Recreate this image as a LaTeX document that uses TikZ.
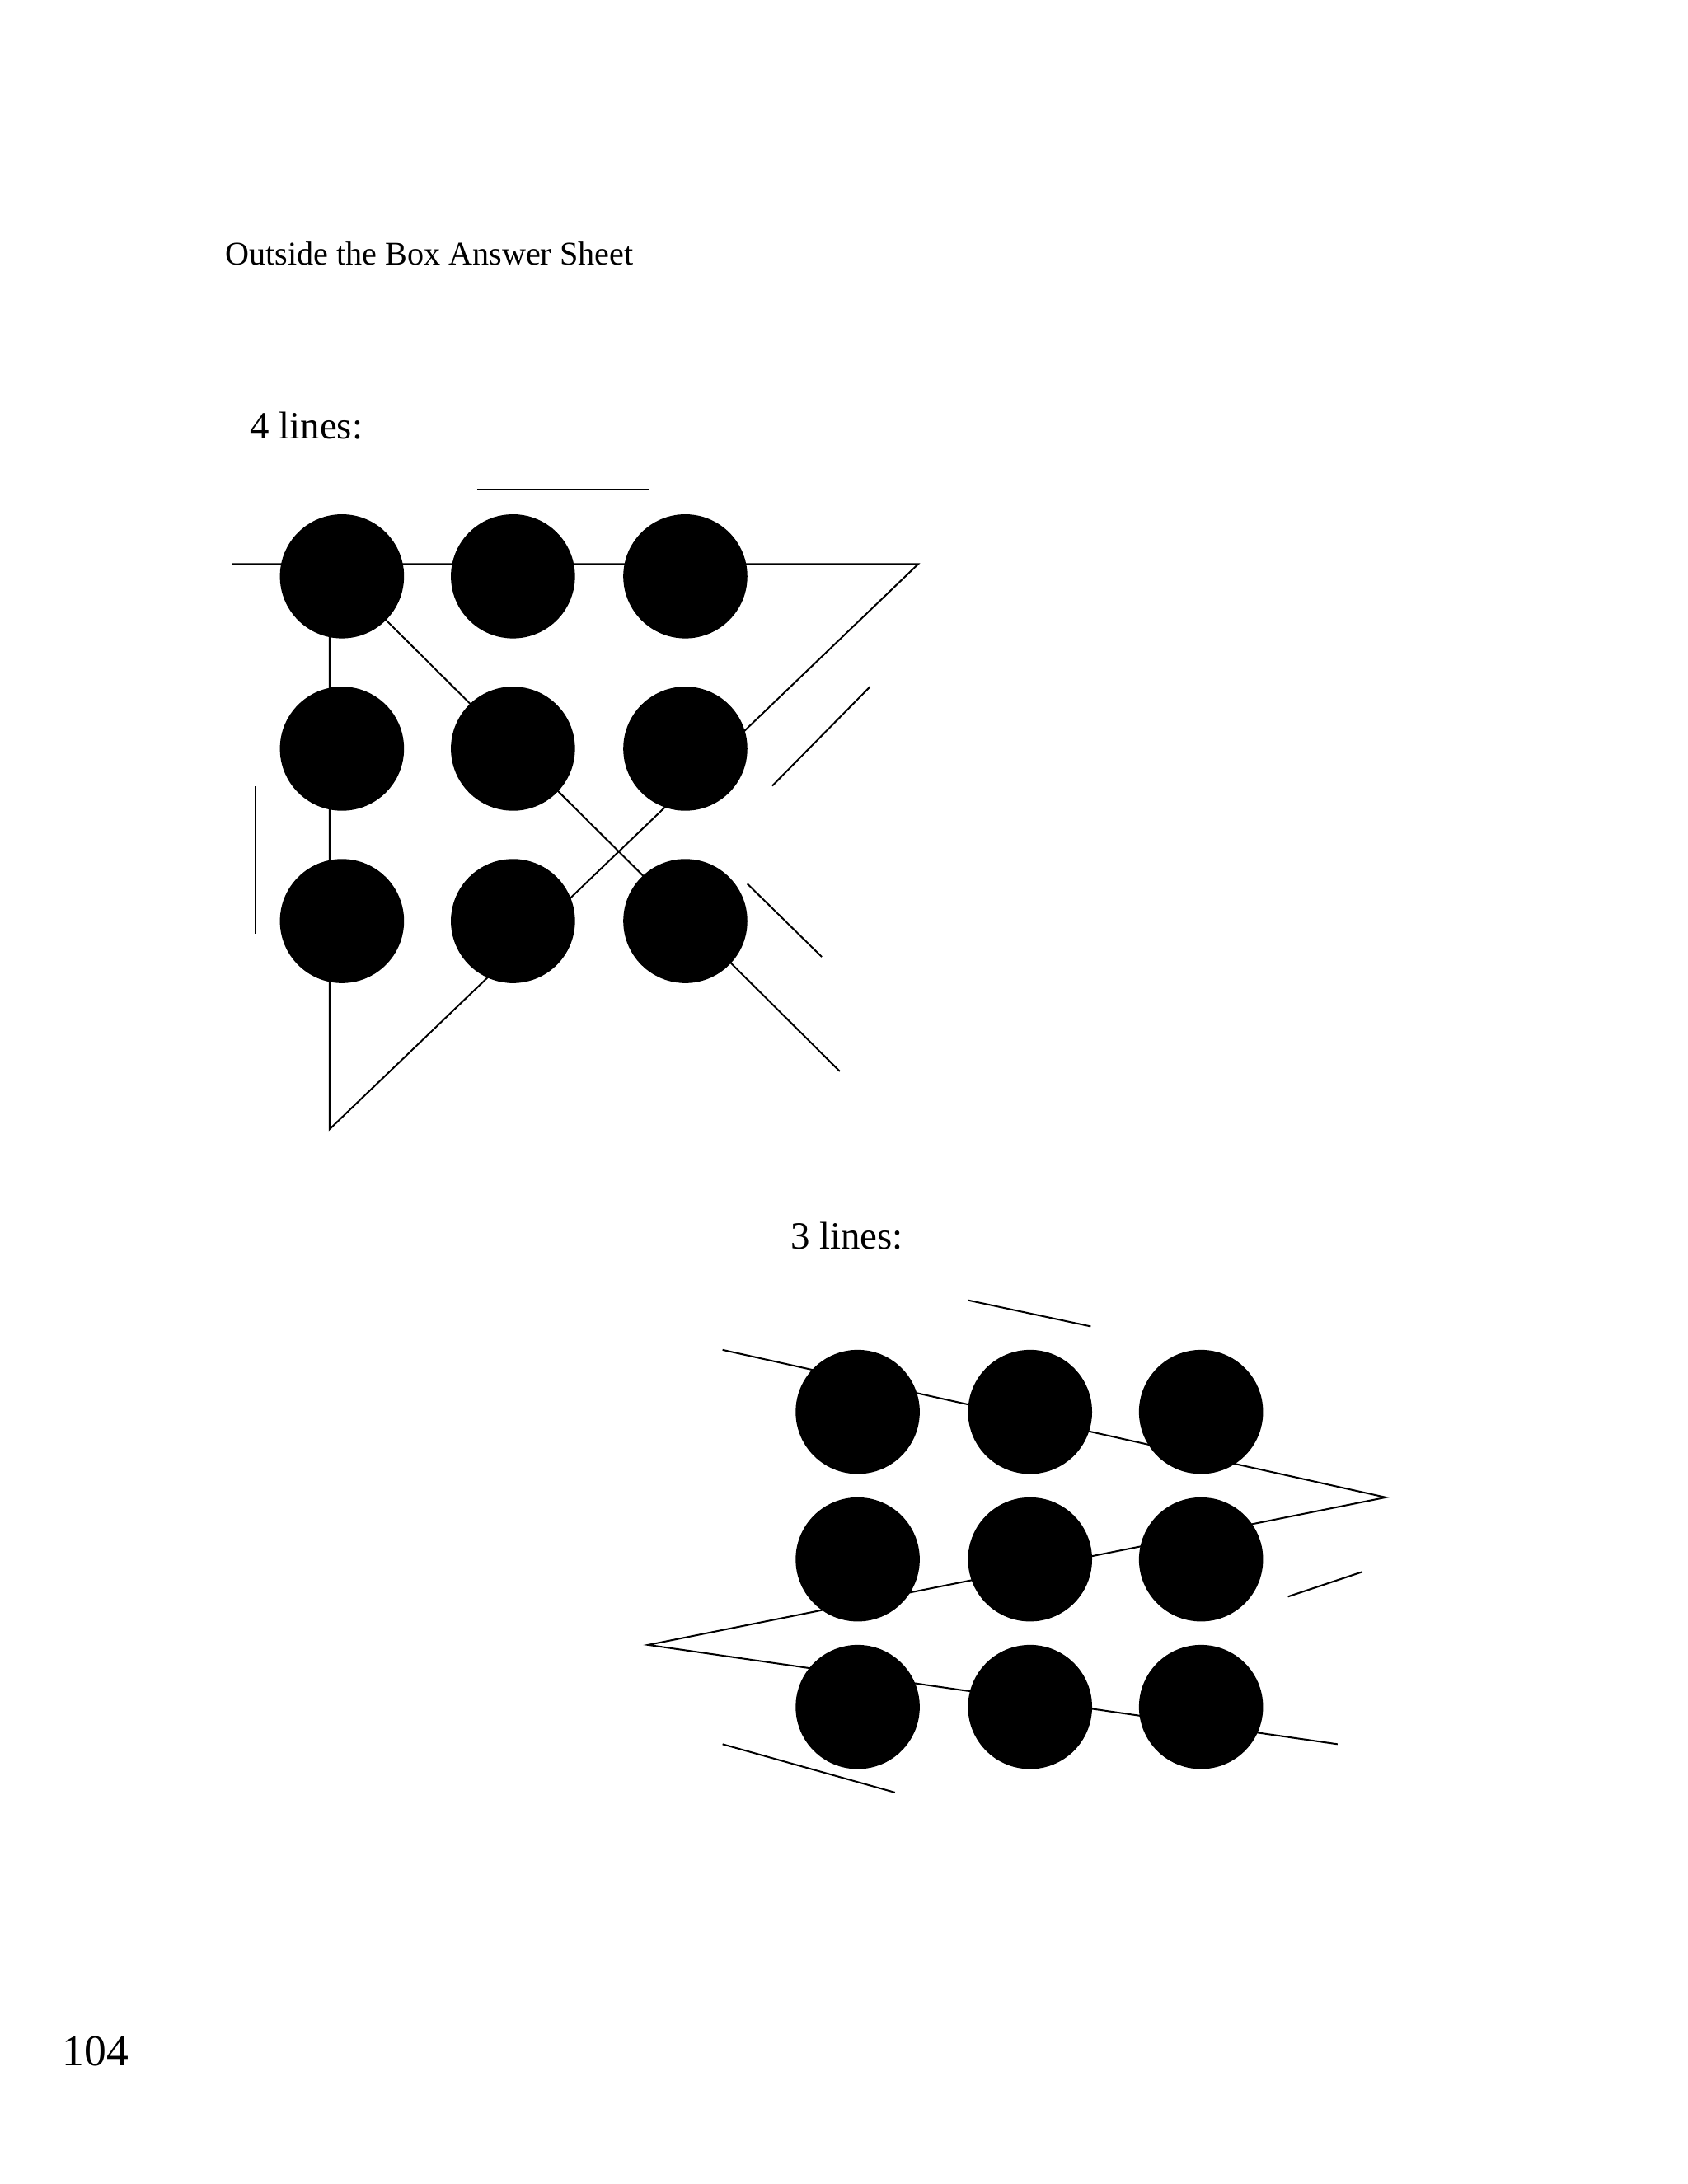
\documentclass[tikz,border=0pt]{standalone}
\usepackage{fontspec}
\setmainfont{Liberation Serif}
\begin{document}
\begin{tikzpicture}[x=0.5pt,y=-0.5pt,
  dot/.style={circle,fill=black,minimum size=45pt,inner sep=0pt},
  ln/.style={line width=0.6pt,black},
  lbl/.style={anchor=base west,inner sep=0pt}]
\useasboundingbox (0,0) rectangle (1224,1584);
\node[lbl,font=\fontsize{12}{14}\selectfont] (title) at (163,192) {Outside the Box Answer Sheet};
\node[lbl,font=\fontsize{14}{16}\selectfont] (l4) at (181,318) {4 lines:};
\node[lbl,font=\fontsize{14}{16}\selectfont] (l3) at (573,906) {3 lines:};
\node[lbl,font=\fontsize{16}{18}\selectfont] (pg) at (45,1498) {104};
% top puzzle lines
\coordinate (a1) at (168,409); \coordinate (a2) at (666,409);
\coordinate (a3) at (239,819); \coordinate (a4) at (239,409);
\coordinate (a5) at (609,777);
\draw[ln] (a1) -- (a2) -- (a3) -- (a4) -- (a5);
\draw[ln] (346,355) -- (471,355);
\draw[ln] (185,570) -- (185,677);
\draw[ln] (560,570) -- (631,498);
\draw[ln] (542,641) -- (596,694);
\foreach \i/\x in {1/248,2/372,3/497}
  \foreach \j/\y in {1/418,2/543,3/668}
    \node[dot] (t\i\j) at (\x,\y) {};
% bottom puzzle lines
\coordinate (b1) at (524,979); \coordinate (b2) at (1005,1086);
\coordinate (b3) at (470,1193); \coordinate (b4) at (970,1265);
\draw[ln] (b1) -- (b2) -- (b3) -- (b4);
\draw[ln] (702,943) -- (791,962);
\draw[ln] (934,1158) -- (988,1140);
\draw[ln] (524,1265) -- (649,1300);
\foreach \i/\x in {1/622,2/747,3/871}
  \foreach \j/\y in {1/1024,2/1131,3/1238}
    \node[dot] (u\i\j) at (\x,\y) {};
\end{tikzpicture}
\end{document}
